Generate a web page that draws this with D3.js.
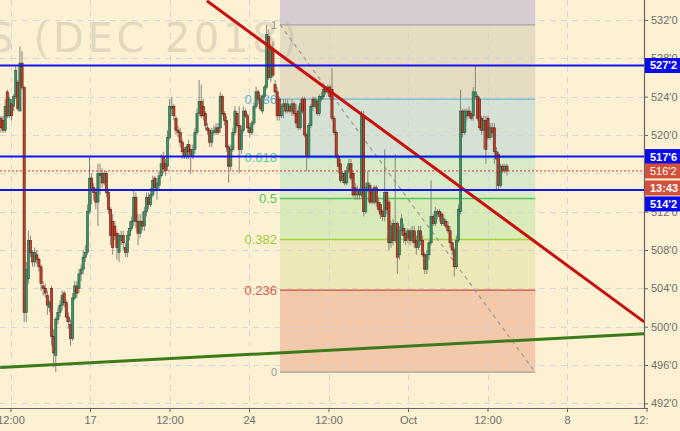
<!DOCTYPE html>
<html>
<head>
<meta charset="utf-8">
<script src="https://cdnjs.cloudflare.com/ajax/libs/d3/7.8.5/d3.min.js"></script>
<style>
  html, body { margin: 0; padding: 0; background: #fdf1d3; }
  svg { display: block; }
</style>
</head>
<body>
<div id="chart"></div>
<script>
// 2h candles, corn futures, prices in cents
var opens = [521.75,521.5,520.5,524.5,522,523.25,523,524,525.5,522.5,527.5,525,501.5,505,509,507.75,506.75,507.5,
  507,506.25,504.25,504,503.25,502,504,499,497,500.75,501.5,502.25,503.5,502.5,501,500.25,498.75,503,504.25,504,505.5,506,507.25,507.75,512,515.5,514.5,
  514,513,515.75,516,515,516,514,512.25,511,510.5,509.75,507.75,
  509,509.5,
  508.25,507.75,509.5,510.25,511,513.5,511,509.75,511,510.5,512,513.5,512.75,513.75,515.5,514.25,514.75,515.75,517.75,517,
  516.75,519.75,522.75,523,521.75,520.5,520.25,519.25,518.5,517.75,
  519,518.5,517.75,518.5,520.25,522.25,523.5,523,
  522.25,520.75,520.5,519.25,520.25,
  520.25,520.75,520.75,524,522.25,521.5,518.75,516.75,518.5,520.25,522.25,521,
  518.5,520.5,522.5,522,520.75,520.25,521.25,523,524.5,523.75,522.5,524,
  525,530.25,526,529,525.25,524.5,523.75,522,523,523.25,522.5,523,522.5,523.25,
  522.25,522.5,520.75,523.75,523.75,520,517.75,521,523.75,523,
  523.5,522.25,523.75,524,525,524.5,525,524.75,521.75,520.25,
  517.75,517,515.25,516,515,516.25,517,516,514.5,513.75,
  514.25,513.75,522,512,514.25,514.75,514.25,513,514.5,513,
  512.75,512,511.5,514,513,508.75,510.75,509,510.75,507.5,
  510,510.25,509.75,509.25,510,509,510,509,508.25,510,
  509,507.5,506,507.5,508.75,511.5,510.75,511.75,512,511.75,
  510.75,511,510.5,510,508.75,508,506.25,509,512,522.5,
  520.25,522,522.5,522.25,522,524,524,523.75,521.75,520.5,
  521.5,521.75,519.75,520.75,520.75,518.25,518,514.75,516.75,516.25,516.75];
var highs = [522,522,523.75,524.75,524,523.75,524.25,527.25,525.75,529.25,528.75,525,506.75,510,509.5,508,508.25,508,
  507.25,506.5,504.75,504.5,503.75,502.75,504.25,499.75,501,502,502.75,503.75,503.75,502.75,501.5,500.75,503.5,504.75,504.75,506,506.5,508,508.5,512.75,517.75,516,515,
  514.5,517,517,516.5,516.25,516.25,514.25,512.5,511.75,511,510,509.75,
  510,510,
  508.75,510,511,511.5,514.25,514,511.75,511.75,512,512.5,514,514,514.5,515.75,515.75,515.5,516.25,518,518.25,517.5,
  520.5,523.75,524,523.25,522,521,520.75,519.5,518.75,519,
  519.5,519,519,520.75,522.75,525.75,525.25,523.75,
  522.5,521.25,520.75,520.75,521,
  521.25,521.25,524.5,524.25,522.5,522,519,519,520.75,523,522.5,523,
  521,523,522.75,522.25,521.25,521.5,523.25,525,524.75,524,524.25,525.25,
  531.5,531,529.5,529.75,525.75,525,524,523.25,523.75,523.75,523.75,523.25,523.75,523.5,
  523.25,523,523.75,524,524,520.25,521.25,523.25,524,524,
  523.75,524.25,524.5,525,525,525.25,525.25,527,522,520.5,
  518,517.5,516.25,516.25,516.75,517.5,517.5,516.25,515,514.75,
  514.5,522.5,522.5,515,516.25,515,514.5,514.75,514.75,513.5,
  513,512.25,518.5,514.25,513.25,511,511.25,518,511,510.5,
  511.75,510.75,510.25,510.25,510.25,510.5,510.5,509.5,510.5,510.5,
  509.5,507.75,508,509,515.25,511.75,512.5,512.25,512.25,512,
  511.75,511.25,511,510.5,509,508.25,509.5,512.75,524.75,522.75,
  522.75,522.75,523,522.5,525,527.25,524.25,524,522,522,
  522,522,521.25,521.25,521.25,518.75,518.25,517,517,517,517];
var lows = [520.25,520.25,520.25,521.75,521.75,521.5,522.5,523.75,522.5,522.5,524.75,500.5,500.5,504.5,507.25,506.25,506.25,506.5,
  505.75,503.75,503.25,503,501.25,501.5,498,495.75,495.25,500.25,501,501.75,502,500.5,499.75,498,498.5,502.75,503,503.5,504.75,505.5,506.75,507.5,511.75,512.75,513.25,
  512.25,510.5,513.75,514.5,514.75,513.5,511.75,508.5,507.5,509,507,506.75,
  508.5,508,
  507.25,507.25,509,510,510.5,510.25,508.5,509.25,510,510,511.5,512.25,512.5,513.5,514,513.25,514.25,515.5,516,515.75,
  516.25,519.5,522,521.5,520,519.75,518.75,517.5,517.5,517.5,
  517.5,516,517.5,518,520,522,521.75,521.5,
  520.5,520,518.75,518.75,520,
  520,520,520.25,522,521,518.25,515,516.25,518.25,520,520.75,516,
  518,520.25,521.75,520.25,519.75,520,521,522.75,523.5,522.5,522.25,523.75,
  524.75,525.75,525.5,526,524.25,521.5,521.5,521.75,521.75,522.25,522.25,522.25,522,522,
  520.75,520.5,520.5,522.25,519.75,516.25,517.5,520.75,522.5,522.75,
  522,522,523.5,523.75,524.25,524.25,523.75,521.5,520,517.5,
  516,515,515,514.75,514.75,516,515.25,513.5,513.25,513.25,
  513.25,513.5,511.5,511.75,514,512.75,512.75,512.75,512.5,512,
  511.25,511,511,511.75,508,508.25,508.5,508.75,505.5,507,
  509.5,508.75,508.5,508.75,508.5,508.75,508.25,507.5,508,508.5,
  507.25,505.5,505.5,507,508.5,510.5,510.5,511.25,511,510.5,
  510.5,510.25,509.75,508.25,507.5,505.25,506,508.75,511.75,519.75,
  520,521.5,521.75,521.5,521.5,523.75,521.5,520.5,520,518.5,
  517,519.5,519.5,519.75,517,514.25,514.25,514.5,516,516,515.75];
var closes = [520.75,520.5,523,522,523.75,522,524,526.75,522.75,527.5,525,501.5,506,509,507.75,506.75,507.75,507,
  506.25,504.5,504,503.5,502.25,502.5,499,497.25,500.75,501.5,502.25,503.25,502.5,501,500.5,498.75,503,504.25,503.5,505.5,506,507.25,507.75,512,515.5,514.25,514,
  513,516,516,515,516,514,512.25,509.5,508.25,509.5,508.25,509.5,
  509.5,508.75,
  507.75,509.5,510.25,511,513.5,511,509.75,511,510.5,512,513.5,512.75,513.75,515.25,514.5,515,515.75,517,516.5,516.25,
  519.75,523,523,522,520.5,520.25,519.25,518.25,517.75,518.75,
  518.25,517.75,518.5,520.25,522.25,523.5,522,522,
  521,520.5,519.25,520.25,520.5,
  520.75,520.25,524,522.25,521.5,518.75,516.75,518.5,520.25,522.5,521,518.5,
  520.5,522.5,522,520.75,520.25,521.25,523,524.5,523.75,522.75,524,525,
  530.5,526,529,526.25,524.5,522,522,523,523.25,522.5,523.25,522.5,523.25,522.25,
  521.25,520.75,523.25,522.5,520,517.75,521,523,523,523.75,
  522.25,524,524,524.75,524.5,525,524,521.75,520.25,517.75,
  516.75,515.25,516,515,516.25,517,515.5,513.75,513.75,514.25,
  513.75,522,512,514.5,515,513,513,514.5,513,512.25,
  511.75,511.5,514,512.25,508.75,510.5,509,510.75,507.25,510,
  511.25,509.5,509,510,509,510,508.75,508.25,510,509,
  507.5,506,507.5,508.75,511.5,510.75,512,512,511.5,510.75,
  511.25,510.5,510,508.75,508,506.25,509,512.25,522.5,520.25,
  522.5,522.5,522,521.75,524.5,524.5,521.75,520.75,520.5,521.5,
  518.5,519.75,520.75,520.25,518.25,517.5,514.75,516.75,516.25,516.75,516.25];

// bottom axis, one label every half week
var timeLabels = ["12:00", "17", "12:00", "24", "12:00", "Oct", "12:00", "8", "12:00"];
var priceTicks = [492, 496, 500, 504, 508, 512, 516, 520, 524, 528, 532];

// fibonacci retracement
var fibHigh = 531.5, fibLow = 495.25;
var fibStartU = 3.39, fibEndU = 6.6;
var fibLevels = [0, 0.236, 0.382, 0.5, 0.618, 0.786, 1];
var fibLabels = ["0", "0.236", "0.382", "0.5", "0.618", "0.786", "1"];
var fibLine   = ["#a3a3a3", "#cf4b3a", "#a3d43c", "#52c652", "#4fcfa2", "#6cb6d8", "#a3a3a3"];
var fibText   = ["#9a9a9a", "#e0594a", "#9fcc36", "#4cc94c", "#44cfa6", "#5bb0de", "#8f8f8f"];
// zone above each level (last one runs to the top edge)
var fibZones  = ["#f4c9aa", "#ece8b8", "#d9ebb9", "#d8eac9", "#d5e2d3", "#e6dcc2", "#d6ccd1"];

// drawn lines
var redTrend = [[2.47, 534.0], [7.97, 500.5]];
var greenTrend = [[-0.13, 495.75], [7.97, 499.25]];
var blueLevels = [527.25, 517.75, 514.25];
var lastPrice = 516.25;
var barTimer = "13:43";

var width = 680, height = 431;
var plotW = 644, plotH = 408;
var firstBarU = -0.12, lastBarU = 6.245;

var x = d3.scaleLinear().domain([0, 8]).range([10.5, 646.5]);
var y = d3.scaleLinear().domain([496, 532]).range([365, 20]);

function fmtPrice(p){
  var whole = Math.floor(p);
  return whole + "'" + Math.round((p - whole) * 8);
}

var svg = d3.select("#chart").append("svg")
  .attr("width", width).attr("height", height)
  .style("font-family", "'Liberation Sans', Arial, sans-serif");

svg.append("rect").attr("width", width).attr("height", height).attr("fill", "#fdf1d3");

// clip rects are in the local space of the group that uses them
var defs = svg.append("defs");
defs.append("clipPath").attr("id", "plot-clip").append("rect")
  .attr("x", 0).attr("y", 0).attr("width", plotW).attr("height", plotH);
defs.append("clipPath").attr("id", "raxis-clip").append("rect")
  .attr("x", 0).attr("y", 0).attr("width", width - plotW).attr("height", plotH);
defs.append("clipPath").attr("id", "baxis-clip").append("rect")
  .attr("x", -20).attr("y", 0).attr("width", 668).attr("height", height - plotH);

var plot = svg.append("g").attr("clip-path", "url(#plot-clip)");

// fib zones
var fibPrice = function(l){ return fibLow + (fibHigh - fibLow) * l; };
var fx0 = x(fibStartU), fx1 = x(fibEndU);
fibLevels.forEach(function(l, i){
  var top = i < fibLevels.length - 1 ? y(fibPrice(fibLevels[i + 1])) : 0;
  var bottom = y(fibPrice(l));
  plot.append("rect")
    .attr("x", fx0).attr("y", top)
    .attr("width", fx1 - fx0).attr("height", bottom - top)
    .attr("fill", fibZones[i]);
});

// grid
plot.selectAll(".hgrid").data(priceTicks).enter().append("line")
  .attr("x1", 0).attr("x2", plotW)
  .attr("y1", function(d){ return Math.round(y(d)) + 0.5; })
  .attr("y2", function(d){ return Math.round(y(d)) + 0.5; })
  .attr("stroke", "#c9d2dc").attr("stroke-opacity", 0.8)
  .attr("stroke-dasharray", "6,5");
plot.selectAll(".vgrid").data(d3.range(timeLabels.length)).enter().append("line")
  .attr("x1", function(d){ return Math.round(x(d)) + 0.5; })
  .attr("x2", function(d){ return Math.round(x(d)) + 0.5; })
  .attr("y1", 0).attr("y2", plotH)
  .attr("stroke", "#c9d2dc").attr("stroke-opacity", 0.8)
  .attr("stroke-dasharray", "6,5");

// watermark
plot.append("text")
  .attr("x", -12).attr("y", 52)
  .attr("font-family", "'DejaVu Sans', sans-serif")
  .attr("font-size", 40)
  .attr("textLength", 309).attr("lengthAdjust", "spacing")
  .attr("fill", "#c8bfa8").attr("fill-opacity", 0.5)
  .text("S (DEC 2018)");

// fib level lines and labels
fibLevels.forEach(function(l, i){
  var yy = y(fibPrice(l));
  plot.append("line")
    .attr("x1", fx0).attr("x2", fx1).attr("y1", yy).attr("y2", yy)
    .attr("stroke", fibLine[i]).attr("stroke-width", 1.3);
  plot.append("text")
    .attr("x", fx0 - 3).attr("y", yy).attr("dy", "0.35em")
    .attr("text-anchor", "end")
    .attr("font-size", (l === 0 || l === 1) ? 11 : 13)
    .attr("fill", fibText[i])
    .text(fibLabels[i]);
});
plot.append("line")
  .attr("x1", fx0).attr("y1", y(fibHigh))
  .attr("x2", fx1).attr("y2", y(fibLow))
  .attr("stroke", "#9a9a9a").attr("stroke-width", 1.2)
  .attr("stroke-dasharray", "4,4");

// candles
var n = Math.min(opens.length, highs.length, lows.length, closes.length);
var stepU = (lastBarU - firstBarU) / (n - 1);
var bars = d3.range(n).map(function(i){
  return { u: firstBarU + i * stepU, o: opens[i], h: highs[i], l: lows[i], c: closes[i] };
});
var bw = 2.2;

plot.selectAll(".wick").data(bars).enter().append("line")
  .attr("x1", function(d){ return x(d.u); })
  .attr("x2", function(d){ return x(d.u); })
  .attr("y1", function(d){ return y(d.h); })
  .attr("y2", function(d){ return y(d.l); })
  .attr("stroke", "#86867c").attr("stroke-width", 1);

plot.selectAll(".body").data(bars).enter().append("rect")
  .attr("x", function(d){ return x(d.u) - bw / 2; })
  .attr("y", function(d){ return y(Math.max(d.o, d.c)); })
  .attr("width", bw)
  .attr("height", function(d){ return Math.max(1, Math.abs(y(d.o) - y(d.c))); })
  .attr("fill", function(d){ return d.c >= d.o ? "#3f9168" : "#c2412c"; })
  .attr("stroke", function(d){ return d.c >= d.o ? "#245a3e" : "#5c1c10"; })
  .attr("stroke-width", 0.6);

// trend lines
var line = d3.line().x(function(d){ return x(d[0]); }).y(function(d){ return y(d[1]); });
plot.append("path").datum(greenTrend).attr("d", line)
  .attr("fill", "none").attr("stroke", "#3b7b1c").attr("stroke-width", 3);
plot.append("path").datum(redTrend).attr("d", line)
  .attr("fill", "none").attr("stroke", "#c90e0e").attr("stroke-width", 3);

// horizontal levels
plot.selectAll(".level").data(blueLevels).enter().append("line")
  .attr("x1", 0).attr("x2", plotW)
  .attr("y1", function(d){ return y(d); }).attr("y2", function(d){ return y(d); })
  .attr("stroke", "#1414ee").attr("stroke-width", 2);
plot.append("line")
  .attr("x1", 0).attr("x2", plotW)
  .attr("y1", y(lastPrice)).attr("y2", y(lastPrice))
  .attr("stroke", "#e0301c").attr("stroke-width", 1)
  .attr("stroke-dasharray", "2,2");

// axes
var rAxis = svg.append("g")
  .attr("transform", "translate(" + plotW + ",0)")
  .attr("clip-path", "url(#raxis-clip)")
  .call(d3.axisRight(y).tickValues(priceTicks).tickFormat(fmtPrice).tickSize(4).tickPadding(3));
rAxis.select(".domain").remove();
rAxis.selectAll("line").attr("stroke", "#666");
rAxis.selectAll("text").attr("fill", "#6e6e6e").attr("font-size", 11)
  .attr("font-family", "'Liberation Sans', Arial, sans-serif");

var bAxis = svg.append("g")
  .attr("transform", "translate(0," + plotH + ")")
  .attr("clip-path", "url(#baxis-clip)")
  .call(d3.axisBottom(x).tickValues(d3.range(timeLabels.length))
    .tickFormat(function(d){ return timeLabels[d]; }).tickSize(4).tickPadding(4));
bAxis.select(".domain").remove();
bAxis.selectAll("line").attr("stroke", "#666");
bAxis.selectAll("text").attr("fill", "#6e6e6e").attr("font-size", 11)
  .attr("font-family", "'Liberation Sans', Arial, sans-serif");

svg.append("line").attr("x1", plotW + 0.5).attr("x2", plotW + 0.5)
  .attr("y1", 0).attr("y2", plotH + 0.5)
  .attr("stroke", "#666").attr("stroke-width", 1.2);
svg.append("line").attr("x1", 0).attr("x2", 648)
  .attr("y1", plotH + 0.5).attr("y2", plotH + 0.5)
  .attr("stroke", "#666").attr("stroke-width", 1.2);

// price tags on the right axis
function tag(yc, label, fill, bold){
  var g = svg.append("g");
  g.append("rect").attr("x", plotW + 1).attr("y", yc - 7.5)
    .attr("width", width - plotW - 1).attr("height", 15).attr("fill", fill);
  g.append("text").attr("x", plotW + 6).attr("y", yc).attr("dy", "0.36em")
    .attr("fill", "#fff").attr("font-size", 11)
    .attr("font-weight", bold ? "bold" : "normal")
    .text(label);
}
tag(y(blueLevels[0]), fmtPrice(blueLevels[0]), "#0a0aee", true);
tag(y(blueLevels[1]), fmtPrice(blueLevels[1]), "#0a0aee", true);
tag(y(lastPrice), fmtPrice(lastPrice), "#d4503a", false);
tag(y(lastPrice) + 17, barTimer, "#d4503a", true);
// pushed down below the timer tag
tag(y(lastPrice) + 33, fmtPrice(blueLevels[2]), "#0a0aee", true);
</script>
</body>
</html>
